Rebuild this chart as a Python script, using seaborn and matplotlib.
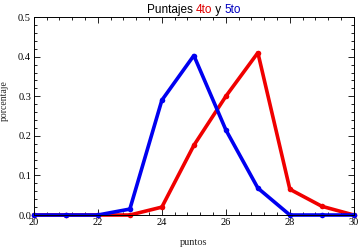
import matplotlib
matplotlib.use("Agg")
import matplotlib.pyplot as plt
import seaborn as sns
import pandas as pd
from matplotlib.ticker import MultipleLocator, FormatStrFormatter

puntos = [20, 21, 22, 23, 24, 25, 26, 27, 28, 29, 30]
cuarto = [0, 0, 0, 0, 0.02, 0.176, 0.30, 0.41, 0.065, 0.022, 0]
quinto = [0, 0, 0, 0.015, 0.29, 0.403, 0.215, 0.068, 0, 0, 0]

df = pd.DataFrame({
    "puntos": puntos * 2,
    "valor": cuarto + quinto,
    "grado": ["4to"] * len(puntos) + ["5to"] * len(puntos),
})

sns.set_style("ticks")
plt.rcParams['font.family'] = ['Liberation Serif', 'DejaVu Serif']

fig = plt.figure(figsize=(3.6, 2.48), dpi=100)
ax = fig.add_axes([0.094, 0.133, 0.889, 0.798])

sns.lineplot(data=df, x="puntos", y="valor", hue="grado",
             palette={"4to": "#f00000", "5to": "#0000f0"},
             linewidth=2.6, marker="o", markersize=4, markeredgewidth=0,
             legend=False, ax=ax, clip_on=False)

ax.set_xlim(20, 30)
ax.set_ylim(0, 0.5)
ax.xaxis.set_major_locator(MultipleLocator(2))
ax.xaxis.set_minor_locator(MultipleLocator(0.4))
ax.yaxis.set_major_locator(MultipleLocator(0.1))
ax.yaxis.set_minor_locator(MultipleLocator(0.02))
ax.xaxis.set_major_formatter(FormatStrFormatter("%d"))
ax.yaxis.set_major_formatter(FormatStrFormatter("%.1f"))
ax.tick_params(which="both", direction="in", top=True, right=True,
               labelsize=7.5, width=0.6, colors="black", pad=2)
ax.tick_params(which="major", length=4)
ax.tick_params(which="minor", length=2)
for s in ax.spines.values():
    s.set_linewidth(0.7)
    s.set_color("black")
ax.set_xlabel("puntos", fontsize=7.5, labelpad=8)
ax.set_ylabel("porcentaje", fontsize=7, labelpad=2)
ax.yaxis.set_label_coords(-0.078, 0.58)

# multi-coloured title
parts = [("Puntajes ", "black"), ("4to", "#e00000"), (" y ", "black"), ("5to", "#0000c0")]
fig.canvas.draw()
renderer = fig.canvas.get_renderer()
texts = []
widths = []
for s, c in parts:
    t = fig.text(0, 0, s, color=c, fontsize=8.5, ha="left", va="baseline",
                 family=['Liberation Sans', 'DejaVu Sans'])
    texts.append(t)
    widths.append(t.get_window_extent(renderer).width)
total = sum(widths)
x0 = (ax.get_position().x0 + ax.get_position().x1) / 2 * fig.bbox.width - total / 2
ypix = 248 - 13
for t, w in zip(texts, widths):
    t.set_position((x0 / fig.bbox.width, ypix / fig.bbox.height))
    x0 += w

fig.savefig("out.png", dpi=100)
